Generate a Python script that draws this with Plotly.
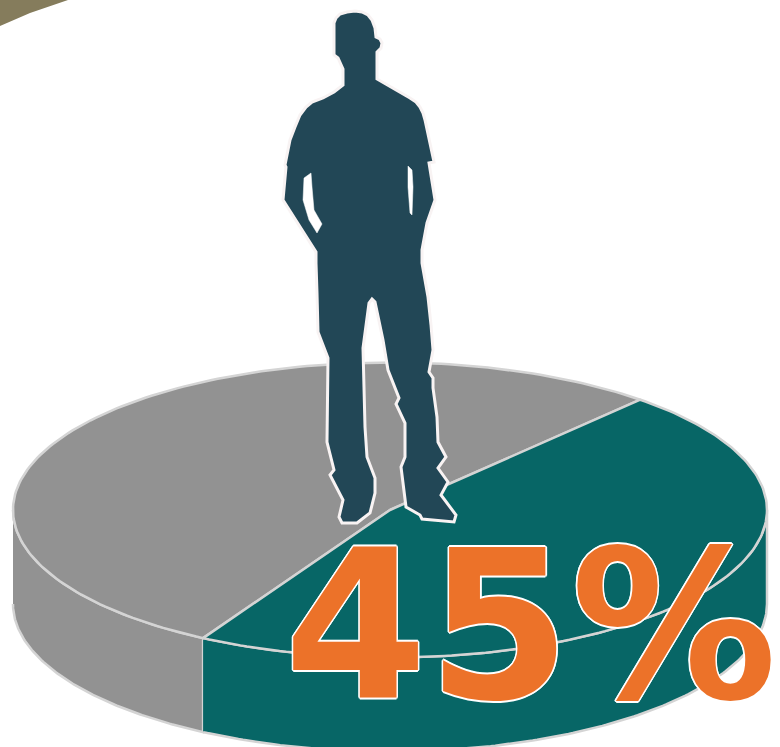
import numpy as np
import plotly.graph_objects as go

# Values as drawn: the teal wedge's visible share of the disc, and its label
share_labels = ["Teal share", "Grey share"]
share_values = [46.7, 53.3]
headline = "45%"

TEAL = "#076666"
GREY = "#929292"
NAVY = "#224756"
ORANGE = "#ec7229"
OLIVE = "#857c5c"
EDGE = "#d4d4d4"

# Disc geometry in page pixels
CX, CY, RX, RY, DEPTH = 390, 510, 377, 147.5, 94
START_DEG = 48.4

# Pictogram outline (decorative figure, page pixels)
figure_outline = [
    (355,11),(362,12),(368,15),(372,20),(375,28),(376,37),(380,39),(382,43),(381,48),(377,52),(377,79),(410,98),(416,102),(420,107),
    (423,113),(425,120),(434,162),(429,163),(435,200),(427,223),(422,250),(422,263),(428,297),(431,325),(433,350),
    (429,372),(433,378),(433,388),(437,417),(438,442),(446,457),(438,468),(448,482),(441,495),
    (456,515),(454,522),(422,519),(420,515),(406,507),(401,467),(405,457),(405,423),(396,404),
    (399,398),(388,370),(383,340),(375,302),(372,299),(369,303),(363,348),(365,427),(367,457),
    (375,478),(375,493),(370,513),(357,523),(342,523),(339,517),(343,500),(330,475),(334,470),
    (327,442),(328,358),(318,332),(317,293),(316,263),(316,252),(283,200),(286,167),(285,165),
    (290,140),(295,127),(300,115),(306,107),(312,102),(323,98),(334,92),(343,85),(343,69),(338,58),(334,55),(334,23),(336,18),(340,14),(347,12),
]
left_gap = [(311,173),(304,178),(303,200),(309,220),(317,233),(322,224),(314,210),(312,187)]
right_gap = [(408,166),(412,170),(413,187),(412,215),(410,213),(408,187)]
olive_corner = [(0,0),(68,0),(30,13),(0,26)]


def path(pts):
    return "M " + " L ".join(f"{x},{y}" for x, y in pts) + " Z"


def arc(a0, a1, n=160):
    t = np.radians(np.linspace(a0, a1, n))
    return CX + RX * np.cos(t), CY - RY * np.sin(t)


total = sum(share_values)
teal_end = START_DEG - 360 * share_values[0] / total   # clockwise from the upper right
grey_end = teal_end - 360 * share_values[1] / total

fig = go.Figure()


def poly(x, y, fill):
    fig.add_trace(go.Scatter(x=x, y=y, mode="lines", fill="toself", fillcolor=fill,
                             line=dict(color=EDGE, width=2.5), hoverinfo="skip", showlegend=False))


# Side walls: only the front half of the rim has a wall
ax, ay = arc(180, teal_end + 360)
poly(np.r_[ax, ax[::-1]], np.r_[ay, ay[::-1] + DEPTH], GREY)
ax, ay = arc(teal_end, 0)
poly(np.r_[ax, ax[::-1]], np.r_[ay, ay[::-1] + DEPTH], TEAL)

# Top face wedges
ax, ay = arc(teal_end, grey_end)
poly(np.r_[CX, ax, CX], np.r_[CY, ay, CY], GREY)
ax, ay = arc(START_DEG, teal_end)
poly(np.r_[CX, ax, CX], np.r_[CY, ay, CY], TEAL)

outline = "#f8f3f3"
shapes = [
    dict(type="path", path=path(olive_corner), fillcolor=OLIVE, line=dict(width=0), layer="below"),
    dict(type="path", path=path(figure_outline), fillcolor=NAVY, line=dict(color=outline, width=3), layer="above"),
    dict(type="path", path=path(left_gap), fillcolor="#ffffff", line=dict(color="#ffffff", width=0.5), layer="above"),
    dict(type="path", path=path(right_gap), fillcolor="#ffffff", line=dict(color="#ffffff", width=0.5), layer="above"),
]
for s in shapes:
    s.update(xref="x", yref="y")

w = 1.6
shadow = ", ".join(f"{dx}px {dy}px 0 #ffffff" for dx, dy in
                   [(w,0),(-w,0),(0,w),(0,-w),(w*.7,w*.7),(-w*.7,w*.7),(w*.7,-w*.7),(-w*.7,-w*.7)])

fig.update_layout(
    width=780, height=747, autosize=False,
    margin=dict(l=0, r=0, t=0, b=0),
    paper_bgcolor="#ffffff", plot_bgcolor="#ffffff",
    xaxis=dict(range=[0, 780], visible=False, fixedrange=True),
    yaxis=dict(range=[747, 0], visible=False, fixedrange=True),
    shapes=shapes,
    annotations=[dict(
        x=530, y=627, xref="x", yref="y", xanchor="center", yanchor="middle",
        text=headline, showarrow=False,
        font=dict(family="DejaVu Sans", size=206, color=ORANGE, weight=700, shadow=shadow),
    )],
)
fig.write_html("out.html", config=dict(displayModeBar=False),
               post_script="document.body.style.margin='0';document.body.style.overflow='hidden';")
